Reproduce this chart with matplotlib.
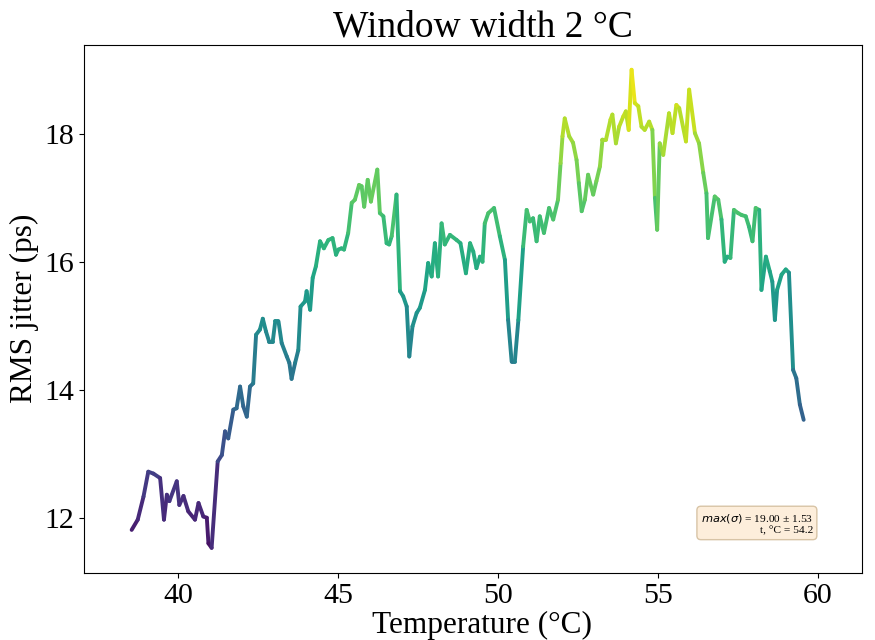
import numpy as np
import matplotlib
matplotlib.use("Agg")
import matplotlib.pyplot as plt
from matplotlib.collections import LineCollection

# temperature (°C) and RMS jitter (ps)
temperature = [
    38.55, 38.74, 38.92, 39.07, 39.23, 39.44, 39.56, 39.65, 39.73, 39.96,
    40.04, 40.17, 40.32, 40.53, 40.64, 40.79, 40.90, 40.95, 41.05, 41.24,
    41.37, 41.47, 41.57, 41.73, 41.83, 41.94, 42.04, 42.15, 42.25, 42.35,
    42.44, 42.56, 42.65, 42.75, 42.85, 42.96, 43.04, 43.14, 43.24, 43.40,
    43.48, 43.55, 43.66, 43.76, 43.83, 43.97, 44.02, 44.13, 44.21, 44.31,
    44.44, 44.56, 44.70, 44.83, 44.94, 45.01, 45.11, 45.19, 45.32, 45.43,
    45.53, 45.66, 45.74, 45.82, 45.93, 46.03, 46.23, 46.31, 46.42, 46.52,
    46.60, 46.68, 46.83, 46.94, 47.04, 47.15, 47.23, 47.33, 47.46, 47.56,
    47.72, 47.82, 47.93, 48.03, 48.13, 48.24, 48.34, 48.50, 48.71, 48.83,
    49.00, 49.13, 49.23, 49.33, 49.44, 49.52, 49.59, 49.70, 49.88, 50.06,
    50.22, 50.32, 50.43, 50.53, 50.64, 50.79, 50.90, 51.00, 51.10, 51.21,
    51.31, 51.44, 51.60, 51.73, 51.88, 51.96, 52.02, 52.09, 52.23, 52.35,
    52.46, 52.53, 52.62, 52.72, 52.82, 52.98, 53.08, 53.19, 53.27, 53.38,
    53.52, 53.58, 53.69, 53.79, 53.92, 54.00, 54.09, 54.18, 54.28, 54.39,
    54.49, 54.59, 54.73, 54.83, 54.91, 54.98, 55.06, 55.17, 55.35, 55.46,
    55.58, 55.67, 55.88, 55.98, 56.16, 56.29, 56.42, 56.52, 56.57, 56.78,
    56.89, 56.99, 57.09, 57.17, 57.27, 57.38, 57.51, 57.62, 57.75, 57.85,
    57.96, 58.06, 58.17, 58.24, 58.38, 58.50, 58.58, 58.66, 58.73, 58.87,
    59.00, 59.10, 59.23, 59.33, 59.44, 59.56,
]
jitter = [
    11.81, 11.97, 12.33, 12.72, 12.69, 12.62, 11.97, 12.36, 12.26, 12.57,
    12.20, 12.34, 12.10, 11.97, 12.23, 12.02, 12.00, 11.60, 11.53, 12.88,
    12.98, 13.35, 13.24, 13.69, 13.71, 14.05, 13.74, 13.58, 14.05, 14.10,
    14.86, 14.94, 15.11, 14.91, 14.75, 14.75, 15.07, 15.07, 14.73, 14.52,
    14.42, 14.17, 14.42, 14.62, 15.30, 15.38, 15.54, 15.25, 15.75, 15.93,
    16.32, 16.21, 16.34, 16.37, 16.11, 16.19, 16.21, 16.19, 16.45, 16.92,
    16.97, 17.20, 17.18, 16.86, 17.28, 16.94, 17.44, 16.76, 16.71, 16.29,
    16.27, 16.40, 17.05, 15.54, 15.46, 15.30, 14.52, 14.99, 15.20, 15.28,
    15.56, 15.98, 15.77, 16.29, 15.77, 16.60, 16.27, 16.42, 16.34, 16.29,
    15.82, 16.29, 16.16, 15.90, 16.08, 16.00, 16.60, 16.76, 16.84, 16.40,
    16.03, 15.09, 14.44, 14.44, 15.09, 16.24, 16.81, 16.63, 16.68, 16.32,
    16.71, 16.45, 16.84, 16.66, 16.97, 17.54, 17.96, 18.24, 17.96, 17.86,
    17.59, 17.23, 16.79, 16.97, 17.36, 17.05, 17.26, 17.49, 17.91, 17.91,
    18.22, 18.30, 17.85, 18.11, 18.27, 18.35, 18.06, 19.00, 18.48, 18.43,
    18.11, 18.06, 18.19, 18.06, 17.00, 16.50, 17.85, 17.67, 18.32, 18.01,
    18.45, 18.40, 17.88, 18.69, 18.01, 17.85, 17.39, 17.07, 16.37, 17.02,
    16.97, 16.66, 16.00, 16.08, 16.06, 16.81, 16.76, 16.73, 16.71, 16.55,
    16.32, 16.84, 16.81, 15.56, 16.08, 15.85, 15.69, 15.09, 15.56, 15.80,
    15.88, 15.83, 14.31, 14.18, 13.77, 13.53,
]

max_sigma = 19.00
max_err = 1.53
t_max = 54.2

plt.rcParams["font.family"] = ["Liberation Serif", "DejaVu Serif"]

fig = plt.figure(figsize=(8.75, 6.4), dpi=100)
ax = fig.add_axes([0.096, 0.105, 0.889, 0.825])

x = np.array(temperature)
y = np.array(jitter)
pts = np.column_stack([x, y]).reshape(-1, 1, 2)
segs = np.concatenate([pts[:-1], pts[1:]], axis=1)
lc = LineCollection(segs, cmap="viridis", norm=plt.Normalize(y.min() - 0.3, y.max()),
                    linewidth=2.8, capstyle="round", joinstyle="round")
lc.set_array((y[:-1] + y[1:]) / 2)
ax.add_collection(lc)

ax.set_xlim(37.06, 61.38)
ax.set_ylim(11.14, 19.39)
ax.set_xticks([40, 45, 50, 55, 60])
ax.set_yticks([12, 14, 16, 18])
ax.tick_params(labelsize=21.5)
ax.set_xlabel("Temperature (°C)", fontsize=22.5)
ax.xaxis.set_label_coords(0.512, -0.073)
ax.set_ylabel("RMS jitter (ps)", fontsize=22.5)
ax.set_title("Window width 2 °C", fontsize=27, pad=3, x=0.513)

ax.text(0.937, 0.093, f"$max(\\sigma)$ = {max_sigma:.2f} ± {max_err:.2f}\nt, °C = {t_max}",
        transform=ax.transAxes, ha="right", va="center", fontsize=8.2,
        multialignment="right",
        bbox=dict(boxstyle="round,pad=0.35", facecolor="#fdeedb", edgecolor="#d8c4a6"))

fig.savefig("out.png", dpi=100)
